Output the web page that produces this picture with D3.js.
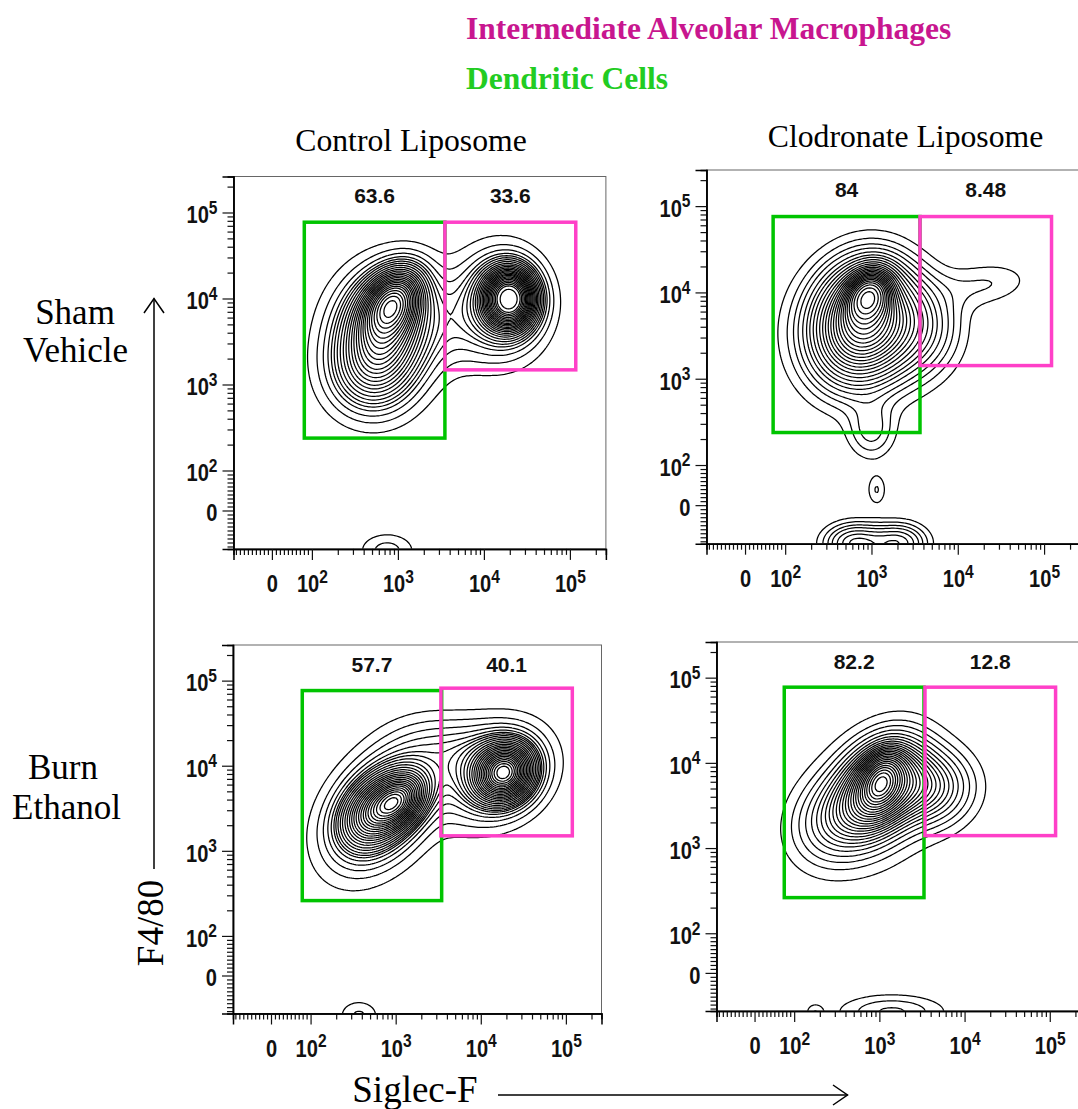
<!DOCTYPE html>
<html>
<head>
<meta charset="utf-8">
<script src="https://cdn.jsdelivr.net/npm/d3@7/dist/d3.min.js"></script>
<style>
  body { margin: 0; background: #fff; }
  svg { display: block; }
</style>
</head>
<body>
<svg id="chart" width="1078" height="1109"></svg>
<script>
// ---------------- data ----------------
// Panels, row by row: treatment (rows) x liposome (columns)
const rowLabels = [["Sham", "Vehicle"], ["Burn", "Ethanol"]];
const columnLabels = ["Control Liposome", "Clodronate Liposome"];

// Gate frequencies (% of parent) printed above each gate
const dcPercent = ["63.6", "84", "57.7", "82.2"];
const amPercent = ["33.6", "8.48", "40.1", "12.8"];

// Gates in fluorescence units: [SiglecF min, SiglecF max, F4/80 min, F4/80 max]
const dcGates = [[81, 3520, 238, 77100], [70, 3650, 238, 75700], [79, 3470, 260, 76400], [75, 3340, 262, 77300]];
const amGates = [[3520, 117000, 1480, 77100], [3650, 122000, 1420, 75700], [3400, 119000, 1500, 81500], [3430, 117000, 1400, 77300]];

// Sub-populations of each sample: [SiglecF centre, F4/80 centre, spread X (decades), spread Y (decades), correlation, share]
const popsShamControl = [
  [900, 9500, 0.22, 0.25, 0.30, 0.14],
  [700, 4200, 0.33, 0.40, 0.10, 0.31],
  [480, 1300, 0.32, 0.32, 0.00, 0.09],
  [620, 3500, 0.50, 0.58, 0.00, 0.08],
  [20000, 10000, 0.19, 0.22, 0.00, 0.18],
  [15000, 8500, 0.30, 0.36, 0.00, 0.11],
  [15000, 8000, 0.45, 0.50, 0.00, 0.06],
  [4000, 5000, 0.30, 0.35, 0.00, 0.025],
  [750, -100, 0.22, 0.14, 0.00, 0.012]
];
const popsShamClodronate = [
  [930, 9300, 0.16, 0.18, 0.20, 0.10],
  [800, 4500, 0.34, 0.40, 0.12, 0.48],
  [750, 3500, 0.55, 0.55, 0.00, 0.12],
  [3200, 4000, 0.32, 0.35, 0.00, 0.08],
  [22000, 12600, 0.36, 0.18, 0.20, 0.015],
  [1000, 250, 0.18, 0.22, 0.00, 0.015],
  [1150, 38, 0.08, 0.13, 0.00, 0.0026],
  [650, -95, 0.23, 0.15, 0.00, 0.032],
  [2100, -95, 0.21, 0.15, 0.00, 0.026]
];
const popsBurnControl = [
  [1120, 4000, 0.20, 0.20, 0.30, 0.11],
  [560, 2800, 0.25, 0.25, 0.30, 0.13],
  [700, 3300, 0.36, 0.42, 0.40, 0.24],
  [600, 2800, 0.58, 0.58, 0.30, 0.07],
  [19000, 8300, 0.21, 0.21, 0.10, 0.20],
  [14000, 8000, 0.36, 0.33, 0.20, 0.15],
  [14000, 8000, 0.50, 0.45, 0.20, 0.05],
  [4000, 16000, 0.40, 0.25, 0.00, 0.05],
  [370, -100, 0.16, 0.12, 0.00, 0.007]
];
const popsBurnClodronate = [
  [1050, 6000, 0.15, 0.20, 0.30, 0.11],
  [1000, 5000, 0.30, 0.33, 0.30, 0.40],
  [900, 3600, 0.55, 0.56, 0.20, 0.12],
  [3500, 5200, 0.32, 0.27, 0.00, 0.14],
  [320, 2200, 0.32, 0.32, 0.20, 0.10],
  [1400, -98, 0.40, 0.13, 0.00, 0.028],
  [175, -100, 0.07, 0.07, 0.00, 0.0015]
];
const samplePops = [popsShamControl, popsShamClodronate, popsBurnControl, popsBurnClodronate];

// Axis ticks (fluorescence units) and their labels
const majorTicks = [0, 100, 1000, 10000, 100000];
const tickBase = ["0", "10", "10", "10", "10"];
const tickExp = ["", "2", "3", "4", "5"];

// ---------------- layout ----------------
const W = 1078, H = 1109;
const panelLeft = [233.5, 706.5, 233, 716.5];
const panelTop = [176.5, 170, 645, 642];
const panelDecade = [86, 86.3, 85.1, 85.2]; // pixels per decade
const GREEN = "#00c400", PINK = "#ff40c8";
const TITLE_MAGENTA = "#c8168f", TITLE_GREEN = "#22cc22";
const SANS = "'Liberation Sans', Arial, sans-serif";
const SERIF = "'Liberation Serif', 'Times New Roman', serif";
const LABEL_SQUEEZE = 0.82;

// Biexponential-like display transform: logarithmic above 100, linear around zero
const LIN = 0.4 / 86;
const biex = v => v >= 100 ? Math.log10(v) : 2 - (100 - v) * LIN;
const T_MIN = biex(-96), T_MAX = Math.log10(262144);

const minorTicks = [];
for (let k = -9; k <= 9; k++) if (k !== 0) minorTicks.push(k * 10);
for (let d = 2; d <= 4; d++) for (let k = 2; k <= 9; k++) minorTicks.push(k * Math.pow(10, d));
minorTicks.push(200000);

const svg = d3.select("#chart");
svg.append("rect").attr("width", W).attr("height", H).attr("fill", "#fff");
const defs = svg.append("defs");

function densityAt(pops, tx, ty) {
  let s = 0;
  for (const p of pops) {
    const dx = (tx - p.cx) / p.sx, dy = (ty - p.cy) / p.sy, r = p.r;
    const q = (dx * dx - 2 * r * dx * dy + dy * dy) / (1 - r * r);
    s += p.w / (2 * Math.PI * p.sx * p.sy * Math.sqrt(1 - r * r)) * Math.exp(-q / 2);
  }
  return s;
}

samplePops.forEach((popRows, idx) => {
  const left = panelLeft[idx], top = panelTop[idx], dec = panelDecade[idx];
  const size = (T_MAX - T_MIN) * dec;
  const x = d3.scaleLinear().domain([T_MIN, T_MAX]).range([left, left + size]);
  const y = d3.scaleLinear().domain([T_MIN, T_MAX]).range([top + size, top]);

  const g = svg.append("g").attr("class", "panel");
  const clipId = "clip" + idx;
  defs.append("clipPath").attr("id", clipId)
    .append("rect").attr("x", left).attr("y", top).attr("width", size).attr("height", size);

  // density grid over the plot area
  const pops = popRows.map(([vx, vy, sx, sy, r, w]) => ({cx: biex(vx), cy: biex(vy), sx, sy, r, w}));
  const cell = 2;
  const nx = Math.ceil(size / cell), ny = Math.ceil(size / cell);
  const values = new Float64Array(nx * ny);
  for (let j = 0; j < ny; j++) {
    const ty = y.invert(top + (j + 0.5) * cell);
    for (let i = 0; i < nx; i++) {
      const tx = x.invert(left + (i + 0.5) * cell);
      values[j * nx + i] = densityAt(pops, tx, ty);
    }
  }
  // equal-probability contour levels
  const sorted = Float64Array.from(values).sort().reverse();
  const total = d3.sum(sorted);
  const targets = [];
  for (let f = 0.03; f < 0.99; f += 0.037) targets.push(f);
  const levels = [];
  let cum = 0, k = 0;
  for (let n = 0; n < sorted.length && k < targets.length; n++) {
    cum += sorted[n];
    while (k < targets.length && cum >= targets[k] * total) { levels.push(sorted[n]); k++; }
  }
  levels.sort((a, b) => a - b);

  const contours = d3.contours().size([nx, ny]).thresholds(levels)(Array.from(values));
  const proj = d3.geoTransform({
    point(px, py) { this.stream.point(left + px * cell, top + py * cell); }
  });
  g.append("g").attr("clip-path", `url(#${clipId})`)
    .selectAll("path").data(contours).join("path")
    .attr("d", d3.geoPath(proj))
    .attr("fill", "none").attr("stroke", "#000").attr("stroke-width", 1.25)
    .attr("stroke-linejoin", "round");

  // frame
  g.append("rect").attr("x", left).attr("y", top).attr("width", size).attr("height", size)
    .attr("fill", "none").attr("stroke", "#666").attr("stroke-width", 1);

  // axes
  const majorT = majorTicks.map(biex), minorT = minorTicks.map(biex);
  const gx = g.append("g").attr("transform", `translate(0,${top + size})`);
  gx.call(d3.axisBottom(x).tickValues(minorT).tickSize(6).tickFormat(""));
  const gxm = g.append("g").attr("transform", `translate(0,${top + size})`);
  gxm.call(d3.axisBottom(x).tickValues(majorT).tickSize(11).tickPadding(15)
    .tickFormat((d, i) => tickBase[i]));
  const gy = g.append("g").attr("transform", `translate(${left},0)`);
  gy.call(d3.axisLeft(y).tickValues(minorT).tickSize(6).tickFormat(""));
  const gym = g.append("g").attr("transform", `translate(${left},0)`);
  gym.call(d3.axisLeft(y).tickValues(majorT).tickSize(11).tickPadding(5)
    .tickFormat((d, i) => tickBase[i]));
  [gx, gxm, gy, gym].forEach(a => {
    a.select(".domain").attr("stroke", "#000").attr("stroke-width", 1.5);
    a.selectAll(".tick line").attr("stroke", "#111").attr("stroke-width", 1.2);
  });
  [gxm, gym].forEach(a => {
    a.selectAll(".tick text")
      .attr("font-family", SANS).attr("font-weight", "bold").attr("font-size", 24.5).attr("fill", "#111")
      .attr("transform", `scale(${LABEL_SQUEEZE},1)`)
      .each(function (d, i) {
        if (tickExp[i]) d3.select(this).append("tspan")
          .attr("dy", "-0.5em").attr("font-size", 19).text(tickExp[i]);
      });
  });
  gym.selectAll(".tick text").attr("x", -16 / LABEL_SQUEEZE).attr("dy", "0.42em");

  // gates
  const gateRect = (gate, color) => g.append("rect")
    .attr("x", x(biex(gate[0]))).attr("y", y(biex(gate[3])))
    .attr("width", x(biex(gate[1])) - x(biex(gate[0])))
    .attr("height", y(biex(gate[2])) - y(biex(gate[3])))
    .attr("fill", "none").attr("stroke", color).attr("stroke-width", 3.5);
  gateRect(dcGates[idx], GREEN);
  gateRect(amGates[idx], PINK);

  // gate frequencies
  const freq = (gate, txt) => g.append("text")
    .attr("x", x((biex(gate[0]) + biex(gate[1])) / 2)).attr("y", top + 26.5)
    .attr("text-anchor", "middle")
    .attr("font-family", SANS).attr("font-weight", "bold").attr("font-size", 21).attr("fill", "#111")
    .text(txt);
  freq(dcGates[idx], dcPercent[idx]);
  freq(amGates[idx], amPercent[idx]);
});

// ---------------- titles and annotations ----------------
svg.append("text").attr("x", 466).attr("y", 38.5).attr("font-family", SERIF)
  .attr("font-weight", "bold").attr("font-size", 31.5).attr("fill", TITLE_MAGENTA)
  .text("Intermediate Alveolar Macrophages");
svg.append("text").attr("x", 466).attr("y", 88.5).attr("font-family", SERIF)
  .attr("font-weight", "bold").attr("font-size", 31.5).attr("fill", TITLE_GREEN)
  .text("Dendritic Cells");

const colX = [411, 905.5], colY = [150.5, 146.5];
columnLabels.forEach((t, i) => svg.append("text").attr("x", colX[i]).attr("y", colY[i])
  .attr("text-anchor", "middle").attr("font-family", SERIF).attr("font-size", 31.7).text(t));

const rowX = [[75, 75.5], [63, 66.5]], rowY = [[323.5, 361.5], [779, 819]];
rowLabels.forEach((lines, r) => lines.forEach((t, l) => svg.append("text")
  .attr("x", rowX[r][l]).attr("y", rowY[r][l]).attr("text-anchor", "middle")
  .attr("font-family", SERIF).attr("font-size", 35).text(t)));

// axis titles with arrows
const arrow = svg.append("g").attr("fill", "none").attr("stroke", "#000").attr("stroke-width", 1.5);
arrow.append("line").attr("x1", 154).attr("y1", 869).attr("x2", 154).attr("y2", 298.5);
arrow.append("path").attr("d", "M144,313 L154,298.5 L164,313");
arrow.append("line").attr("x1", 498).attr("y1", 1095).attr("x2", 847.5).attr("y2", 1095);
arrow.append("path").attr("d", "M833,1085 L847.5,1095 L833,1105");

svg.append("text").attr("transform", "translate(163,923) rotate(-90)")
  .attr("text-anchor", "middle").attr("font-family", SERIF).attr("font-size", 37).text("F4/80");
svg.append("text").attr("x", 415).attr("y", 1101.5).attr("text-anchor", "middle")
  .attr("font-family", SERIF).attr("font-size", 37).text("Siglec-F");
</script>
</body>
</html>
